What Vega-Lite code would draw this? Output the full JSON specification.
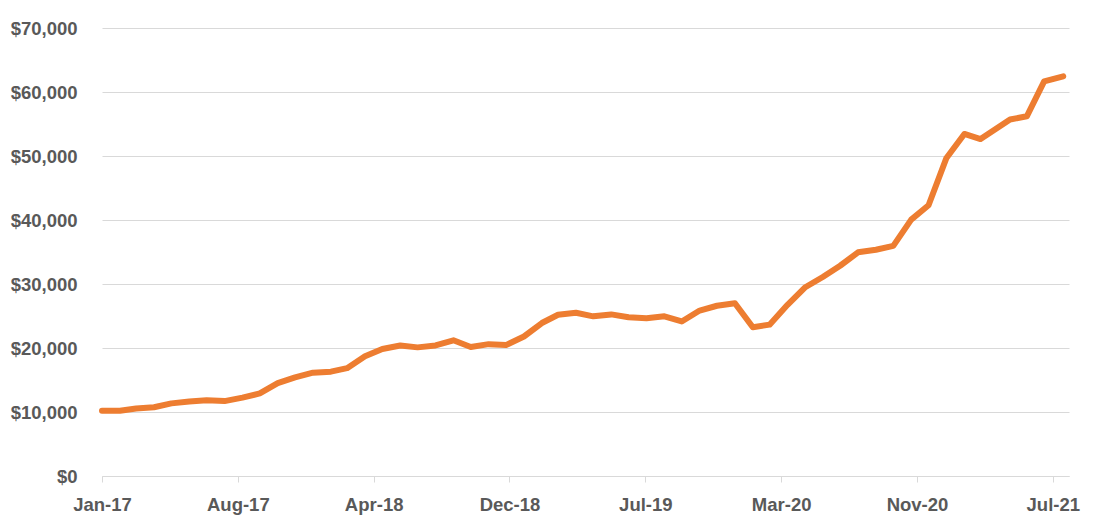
{
  "$schema": "https://vega.github.io/schema/vega-lite/v6.json",
  "width": 967,
  "height": 448,
  "autosize": {"type": "none"},
  "padding": {"left": 102, "top": 28, "right": 24, "bottom": 50},
  "background": "white",
  "config": {"view": {"stroke": null}},
  "data": {
    "values": [
      {"date": "2017-01-01", "value": 10200},
      {"date": "2017-02-01", "value": 10200},
      {"date": "2017-03-01", "value": 10550},
      {"date": "2017-04-01", "value": 10750},
      {"date": "2017-05-01", "value": 11350},
      {"date": "2017-06-01", "value": 11650},
      {"date": "2017-07-01", "value": 11850},
      {"date": "2017-08-01", "value": 11700},
      {"date": "2017-09-01", "value": 12250},
      {"date": "2017-10-01", "value": 12900},
      {"date": "2017-11-01", "value": 14500},
      {"date": "2017-12-01", "value": 15400},
      {"date": "2018-01-01", "value": 16150},
      {"date": "2018-02-01", "value": 16300},
      {"date": "2018-03-01", "value": 16850},
      {"date": "2018-04-01", "value": 18700},
      {"date": "2018-05-01", "value": 19850},
      {"date": "2018-06-01", "value": 20400},
      {"date": "2018-07-01", "value": 20100},
      {"date": "2018-08-01", "value": 20400},
      {"date": "2018-09-01", "value": 21200},
      {"date": "2018-10-01", "value": 20150},
      {"date": "2018-11-01", "value": 20600},
      {"date": "2018-12-01", "value": 20450},
      {"date": "2019-01-01", "value": 21800},
      {"date": "2019-02-01", "value": 23900},
      {"date": "2019-03-01", "value": 25200},
      {"date": "2019-04-01", "value": 25500},
      {"date": "2019-05-01", "value": 24950},
      {"date": "2019-06-01", "value": 25250},
      {"date": "2019-07-01", "value": 24800},
      {"date": "2019-08-01", "value": 24650},
      {"date": "2019-09-01", "value": 24950},
      {"date": "2019-10-01", "value": 24150},
      {"date": "2019-11-01", "value": 25850},
      {"date": "2019-12-01", "value": 26600},
      {"date": "2020-01-01", "value": 27000},
      {"date": "2020-02-01", "value": 23250},
      {"date": "2020-03-01", "value": 23650},
      {"date": "2020-04-01", "value": 26750},
      {"date": "2020-05-01", "value": 29450},
      {"date": "2020-06-01", "value": 31100},
      {"date": "2020-07-01", "value": 32850},
      {"date": "2020-08-01", "value": 34950},
      {"date": "2020-09-01", "value": 35350},
      {"date": "2020-10-01", "value": 35950},
      {"date": "2020-11-01", "value": 40050},
      {"date": "2020-12-01", "value": 42300},
      {"date": "2021-01-01", "value": 49700},
      {"date": "2021-02-01", "value": 53450},
      {"date": "2021-03-01", "value": 52650},
      {"date": "2021-04-21", "value": 55700},
      {"date": "2021-05-20", "value": 56200},
      {"date": "2021-06-19", "value": 61650},
      {"date": "2021-07-22", "value": 62450}
    ]
  },
  "mark": {
    "type": "line",
    "color": "#ED7D31",
    "strokeWidth": 6,
    "strokeCap": "round",
    "strokeJoin": "round"
  },
  "encoding": {
    "x": {
      "field": "date",
      "type": "temporal",
      "scale": {
        "type": "utc",
        "domain": [
          {"year": 2017, "month": 1, "date": 1, "utc": true},
          {"year": 2021, "month": 8, "date": 1, "utc": true}
        ]
      },
      "axis": {
        "title": null,
        "values": [
          {"year": 2017, "month": 1, "date": 1, "utc": true},
          {"year": 2017, "month": 8, "date": 24, "utc": true},
          {"year": 2018, "month": 4, "date": 16, "utc": true},
          {"year": 2018, "month": 12, "date": 7, "utc": true},
          {"year": 2019, "month": 7, "date": 30, "utc": true},
          {"year": 2020, "month": 3, "date": 21, "utc": true},
          {"year": 2020, "month": 11, "date": 11, "utc": true},
          {"year": 2021, "month": 7, "date": 4, "utc": true}
        ],
        "labelExpr": "utcFormat(datum.value, '%b-%y')",
        "grid": false,
        "domainColor": "#D9D9D9",
        "domainWidth": 1,
        "tickColor": "#D9D9D9",
        "tickSize": 6,
        "labelFont": "Liberation Sans",
        "labelFontSize": 18.5,
        "labelFontWeight": "bold",
        "labelColor": "#595959",
        "labelPadding": 13,
        "labelFlush": false,
        "labelOverlap": false
      }
    },
    "y": {
      "field": "value",
      "type": "quantitative",
      "scale": {"domain": [0, 70000], "nice": false},
      "axis": {
        "title": null,
        "values": [0, 10000, 20000, 30000, 40000, 50000, 60000, 70000],
        "format": "$,.0f",
        "domain": false,
        "ticks": false,
        "tickSize": 0,
        "grid": true,
        "gridColor": "#D9D9D9",
        "gridWidth": 1,
        "labelFont": "Liberation Sans",
        "labelFontSize": 18.5,
        "labelFontWeight": "bold",
        "labelColor": "#595959",
        "labelPadding": 25
      }
    }
  }
}
